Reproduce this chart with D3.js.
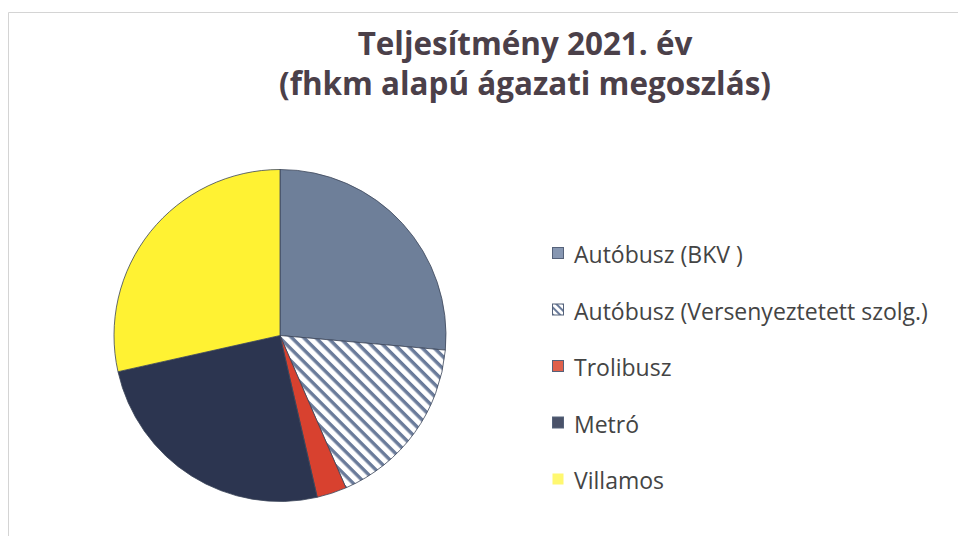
<!DOCTYPE html>
<html>
<head>
<meta charset="utf-8">
<script src="https://cdn.jsdelivr.net/npm/d3@7"></script>
<style>
  body { margin: 0; background: #fff; }
  svg { display: block; }
</style>
</head>
<body>
<script>
// data (shares in %)
var categories = ["Autóbusz (BKV )", "Autóbusz (Versenyeztetett szolg.)", "Trolibusz", "Metró", "Villamos"];
var shares = [26.4, 17.1, 2.9, 25.1, 28.5];
var titleLines = ["Teljesítmény 2021. év", "(fhkm alapú ágazati megoszlás)"];

var w = 958, h = 536;
var cx = 280, cy = 335.5, r = 166;

var sliceColors = ["#6e7f99", "url(#stripes)", "#d8412f", "#2c3550", "#fff233"];
var keyColors = ["#8797b2", "url(#stripesKey)", "#e0604b", "#4a5269", "#fff870"];

var svg = d3.select("body").append("svg")
  .attr("width", w)
  .attr("height", h);

var defs = svg.append("defs");

// hatched fill for the tendered bus service
function add_stripes(id, size, lineW) {
  var p = defs.append("pattern")
    .attr("id", id)
    .attr("patternUnits", "userSpaceOnUse")
    .attr("width", size)
    .attr("height", size)
    .attr("patternTransform", "rotate(45)");
  p.append("rect").attr("width", size).attr("height", size).attr("fill", "#ffffff");
  p.append("rect").attr("x", 0).attr("y", 0).attr("width", size).attr("height", lineW).attr("fill", "#6a7b9a");
}
add_stripes("stripes", 8.5, 3.4);
add_stripes("stripesKey", 5, 2);

// light frame of the chart area
svg.append("path")
  .attr("d", "M8.5," + h + "V12.5H" + w)
  .attr("fill", "none")
  .attr("stroke", "#d4d4d4")
  .attr("stroke-width", 1);

// title, font size fitted to the width of the second line
var title = svg.append("text")
  .attr("text-anchor", "middle")
  .attr("font-family", "'Open Sans', sans-serif")
  .attr("font-weight", "bold")
  .attr("font-size", 28)
  .attr("fill", "#4b4049");
var tspans = title.selectAll("tspan")
  .data(titleLines)
  .enter().append("tspan")
  .attr("x", 525)
  .attr("y", function(d, i) { return 55 + i * 40; })
  .text(function(d) { return d; });
var t2 = tspans.nodes()[1].getComputedTextLength();
title.attr("font-size", Math.min(32, 28 * 492 / t2));

// pie
var pie = d3.pie().sort(null).value(function(d) { return d; });
var arc = d3.arc().innerRadius(0).outerRadius(r);

var g = svg.append("g").attr("transform", "translate(" + cx + "," + cy + ")");
g.selectAll("path.slice")
  .data(pie(shares))
  .enter().append("path")
  .attr("class", "slice")
  .attr("d", arc)
  .attr("fill", function(d, i) { return sliceColors[i]; })
  .attr("stroke", "#3b4559")
  .attr("stroke-width", 0.8);

// legend
var leg = svg.append("g").attr("transform", "translate(552,0)");
var y = d3.scalePoint().domain(categories).range([263, 489]);

var rows = leg.selectAll("g.row")
  .data(categories)
  .enter().append("g")
  .attr("class", "row")
  .attr("transform", function(d) { return "translate(0," + y(d) + ")"; });

rows.append("rect")
  .attr("x", 0.5)
  .attr("y", -15.5)
  .attr("width", 11)
  .attr("height", 11)
  .attr("fill", function(d, i) { return keyColors[i]; })
  .attr("stroke", function(d, i) { return i == 4 ? "none" : "#55627a"; })
  .attr("stroke-width", 1);

var labels = rows.append("text")
  .attr("x", 22)
  .attr("y", 0)
  .attr("font-family", "'Open Sans', sans-serif")
  .attr("font-size", 20)
  .attr("fill", "#444444")
  .text(function(d) { return d; });
// fit the longest label to the width seen in the picture
var lw = labels.nodes()[1].getComputedTextLength();
labels.attr("font-size", Math.min(23, 20 * 358 / lw));
</script>
</body>
</html>
